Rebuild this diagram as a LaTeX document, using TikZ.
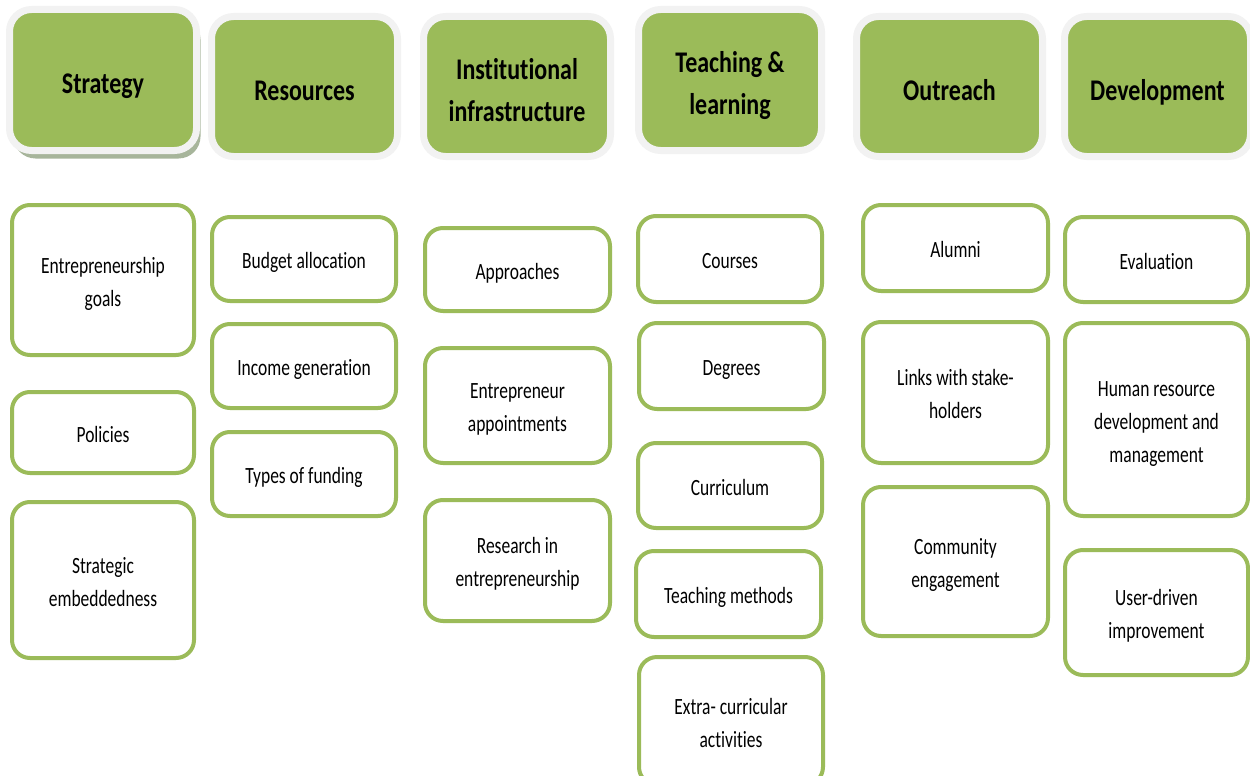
\documentclass[tikz,border=0pt]{standalone}
\usepackage{fontspec}
\setmainfont{Carlito}[Ligatures=NoCommon]
\newfontfamily\bodyfont{Carlito}[FakeStretch=0.75,Ligatures=NoCommon]
\newfontfamily\headfont{Carlito}[FakeStretch=0.8,Ligatures=NoCommon]
\usetikzlibrary{shadows}
\definecolor{leaf}{HTML}{9BBB59}
\definecolor{rim}{HTML}{F2F2F2}
\definecolor{shade}{HTML}{A7B59B}
\newcommand{\hl}[1]{\raisebox{0pt}[\dimexpr\height+11pt\relax][\depth]{\begin{tabular}{@{}c@{}}#1\end{tabular}}}
\newcommand{\bl}[1]{\raisebox{0pt}[\dimexpr\height+6pt\relax][\depth]{\begin{tabular}{@{}c@{}}#1\end{tabular}}}
\begin{document}
\begin{tikzpicture}[x=1pt,y=-1pt,
  hdr/.style={rectangle, rounded corners=22pt, fill=leaf, draw=rim, line width=7pt,
    minimum width=#1, align=center, inner sep=0pt,
    font=\headfont\bfseries\fontsize{30}{42}\selectfont},
  hdr/.default=186pt,
  item/.style={rectangle, rounded corners=18pt, fill=white, draw=leaf, line width=4pt,
    align=center, inner sep=0pt,
    font=\bodyfont\fontsize{23.3}{33}\selectfont}]
\useasboundingbox (0,0) rectangle (1250,776);
% headers
\node[hdr=187pt, minimum height=141pt,
  drop shadow={shadow xshift=4pt, shadow yshift=-8pt, fill=shade, opacity=1}]
  (h1) at (103,80) {\hl{Strategy}};
\node[hdr=186pt, minimum height=140pt] (h2) at (304.5,86.5) {\hl{Resources}};
\node[hdr=187pt, minimum height=140pt] (h3) at (517,86.5) {\hl{Institutional\\infrastructure}};
\node[hdr=183pt, minimum height=141pt] (h4) at (730,80) {\hl{Teaching \&\\learning}};
\node[hdr=186pt, minimum height=140pt] (h5) at (949.5,86.5) {\hl{Outreach}};
\node[hdr=186pt, minimum height=140pt] (h6) at (1157.5,86.5) {\hl{Development}};
% column 1
\node[item, minimum width=182pt, minimum height=150pt] (c1a) at (103,280) {\bl{Entrepreneurship\\goals}};
\node[item, minimum width=182pt, minimum height=81pt] (c1b) at (103,432.5) {\bl{Policies}};
\node[item, minimum width=182pt, minimum height=156pt] (c1c) at (103,580) {\bl{Strategic\\embeddedness}};
% column 2
\node[item, minimum width=184pt, minimum height=84pt] (c2a) at (304,259) {\bl{Budget allocation}};
\node[item, minimum width=184pt, minimum height=84pt] (c2b) at (304,366) {\bl{Income generation}};
\node[item, minimum width=184pt, minimum height=84pt] (c2c) at (304,474) {\bl{Types of funding}};
% column 3
\node[item, minimum width=185pt, minimum height=83pt] (c3a) at (517.5,269.5) {\bl{Approaches}};
\node[item, minimum width=185pt, minimum height=115pt] (c3b) at (517.5,405.5) {\bl{Entrepreneur\\appointments}};
\node[item, minimum width=185pt, minimum height=121pt] (c3c) at (517.5,560.5) {\bl{Research in\\entrepreneurship}};
% column 4
\node[item, minimum width=184pt, minimum height=86pt] (c4a) at (730,259) {\bl{Courses}};
\node[item, minimum width=185pt, minimum height=86pt] (c4b) at (731.5,366) {\bl{Degrees}};
\node[item, minimum width=184pt, minimum height=85pt] (c4c) at (730,485.5) {\bl{Curriculum}};
\node[item, minimum width=185pt, minimum height=86pt] (c4d) at (728.5,594) {\bl{Teaching methods}};
\node[item, minimum width=184pt, minimum height=128pt] (c4e) at (731,721) {\bl{Extra- curricular\\activities}};
% column 5
\node[item, minimum width=185pt, minimum height=86pt] (c5a) at (955.5,248) {\bl{Alumni}};
\node[item, minimum width=185pt, minimum height=141pt] (c5b) at (955.5,392.5) {\bl{Links with stake-\\holders}};
\node[item, minimum width=185pt, minimum height=149pt] (c5c) at (955.5,561.5) {\bl{Community\\engagement}};
% column 6
\node[item, minimum width=183pt, minimum height=85pt] (c6a) at (1156.5,259.5) {\bl{Evaluation}};
\node[item, minimum width=183pt, minimum height=193pt] (c6b) at (1156.5,419.5) {\bl{Human resource\\development and\\management}};
\node[item, minimum width=183pt, minimum height=125pt] (c6c) at (1156.5,612.5) {\bl{User-driven\\improvement}};
\end{tikzpicture}
\end{document}
